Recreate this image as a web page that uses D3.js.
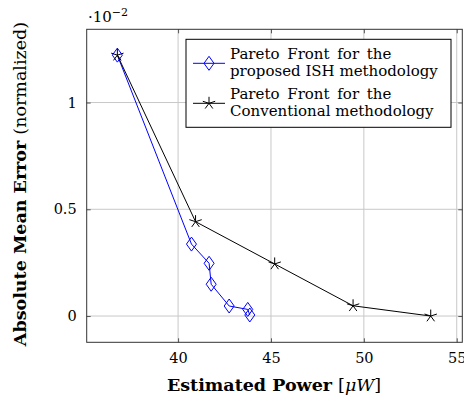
<html>
<head>
<script src="https://d3js.org/d3.v7.min.js"></script>
<style>
body { margin: 0; background: white; }
text { font-family: "DejaVu Serif", serif; fill: black; }
</style>
</head>
<body>
<svg width="464" height="400"></svg>
<script>
// Pareto fronts (y values in units of 1e-2)
var ishPower = [36.73, 40.72, 41.67, 41.78, 42.75, 43.75, 43.86];
var ishError = [1.222, 0.337, 0.247, 0.149, 0.047, 0.031, 0.005];
var convPower = [36.73, 40.94, 45.2, 49.42, 53.6];
var convError = [1.222, 0.442, 0.244, 0.048, 0.0];
var xTicks = [40, 45, 50, 55];
var yTicks = [0, 0.5, 1];
var legendLines = [
  ["Pareto Front for the", "proposed ISH methodology"],
  ["Pareto Front for the", "Conventional methodology"]
];

var svg = d3.select("svg");
var pLeft = 86.7, pRight = 462.3, pTop = 29.3, pBottom = 342.3;

var x = d3.scaleLinear().domain([35.08, 55.3]).range([pLeft, pRight]);
var y = d3.scaleLinear().domain([-0.123, 1.343]).range([pBottom, pTop]);

// grid
var grid = svg.append("g");
grid.selectAll(".gx").data(xTicks).enter().append("line")
  .attr("x1", d => x(d)).attr("x2", d => x(d))
  .attr("y1", pTop).attr("y2", pBottom)
  .attr("stroke", "#c8c8c8").attr("stroke-width", 1);
grid.selectAll(".gy").data(yTicks).enter().append("line")
  .attr("y1", d => y(d)).attr("y2", d => y(d))
  .attr("x1", pLeft).attr("x2", pRight)
  .attr("stroke", "#c8c8c8").attr("stroke-width", 1);

// axes with inward ticks
var xa = svg.append("g").attr("transform", "translate(0," + pBottom + ")")
  .call(d3.axisBottom(x).tickValues(xTicks).tickSizeInner(-4).tickSizeOuter(0).tickPadding(10));
var ya = svg.append("g").attr("transform", "translate(" + pLeft + ",0)")
  .call(d3.axisLeft(y).tickValues(yTicks).tickSizeInner(-4).tickSizeOuter(0).tickPadding(10)
    .tickFormat(d => d === 0 ? "0" : (d === 1 ? "1" : "0.5")));
svg.append("g").attr("transform", "translate(0," + pTop + ")")
  .call(d3.axisTop(x).tickValues(xTicks).tickSizeInner(-4).tickSizeOuter(0).tickFormat(""));
svg.append("g").attr("transform", "translate(" + pRight + ",0)")
  .call(d3.axisRight(y).tickValues(yTicks).tickSizeInner(-4).tickSizeOuter(0).tickFormat(""));
svg.selectAll(".domain").remove();
svg.selectAll(".tick line").attr("stroke", "#555");
svg.selectAll(".tick text").attr("font-size", 14.5).style("font-family", "DejaVu Serif");

svg.append("rect").attr("x", pLeft).attr("y", pTop)
  .attr("width", pRight - pLeft).attr("height", pBottom - pTop)
  .attr("fill", "none").attr("stroke", "#333").attr("stroke-width", 1);

// lines
var line = d3.line().x(d => x(d[0])).y(d => y(d[1]));
var ishData = d3.zip(ishPower, ishError);
var convData = d3.zip(convPower, convError);

svg.append("path").datum(ishData).attr("d", line)
  .attr("fill", "none").attr("stroke", "blue").attr("stroke-width", 1);
svg.append("path").datum(convData).attr("d", line)
  .attr("fill", "none").attr("stroke", "black").attr("stroke-width", 1);

function diamond(g, cx, cy) {
  g.append("path")
    .attr("d", "M" + cx + "," + (cy - 7) + "L" + (cx + 5) + "," + cy + "L" + cx + "," + (cy + 7) + "L" + (cx - 5) + "," + cy + "Z")
    .attr("fill", "none").attr("stroke", "blue").attr("stroke-width", 1);
}
function star(g, cx, cy) {
  var p = "";
  for (var k = 0; k < 5; k++) {
    var a = (90 + 72 * k) * Math.PI / 180;
    p += "M" + cx + "," + cy + "L" + (cx + 6.5 * Math.cos(a)) + "," + (cy - 6.5 * Math.sin(a));
  }
  g.append("path").attr("d", p).attr("stroke", "black").attr("stroke-width", 1).attr("fill", "none");
}

var marks = svg.append("g");
ishData.forEach(d => diamond(marks, x(d[0]), y(d[1])));
convData.forEach(d => star(marks, x(d[0]), y(d[1])));

// legend
var lg = svg.append("g");
lg.append("rect").attr("x", 186).attr("y", 39.3).attr("width", 265).attr("height", 88)
  .attr("fill", "white").attr("stroke", "black").attr("stroke-width", 1);
var rowY = [63.3, 103.3];
lg.append("line").attr("x1", 193).attr("x2", 225).attr("y1", rowY[0]).attr("y2", rowY[0])
  .attr("stroke", "blue");
diamond(lg, 209, rowY[0]);
lg.append("line").attr("x1", 193).attr("x2", 225).attr("y1", rowY[1]).attr("y2", rowY[1])
  .attr("stroke", "black");
star(lg, 209, rowY[1]);
legendLines.forEach(function (ls, i) {
  ls.forEach(function (t, j) {
    lg.append("text").attr("x", 230).attr("y", rowY[i] - 4.5 + j * 17.5)
      .attr("font-size", 15).attr("word-spacing", j === 0 ? 3 : 0).text(t);
  });
});

// axis labels
svg.append("text").attr("x", 274).attr("y", 391)
  .attr("text-anchor", "middle").attr("font-size", 17.5).attr("font-weight", "bold")
  .html('Estimated Power <tspan font-weight="normal">[</tspan><tspan font-style="italic" font-weight="normal">μW</tspan><tspan font-weight="normal">]</tspan>');

svg.append("text").attr("transform", "translate(26,184) rotate(-90)")
  .attr("text-anchor", "middle").attr("font-size", 17.5).attr("font-weight", "bold")
  .html('Absolute Mean Error <tspan font-weight="normal">(normalized)</tspan>');

// scale factor
svg.append("text").attr("x", 88).attr("y", 21.5).attr("font-size", 15)
  .html('·10<tspan dy="-6" font-size="11">−2</tspan>');
</script>
</body>
</html>
